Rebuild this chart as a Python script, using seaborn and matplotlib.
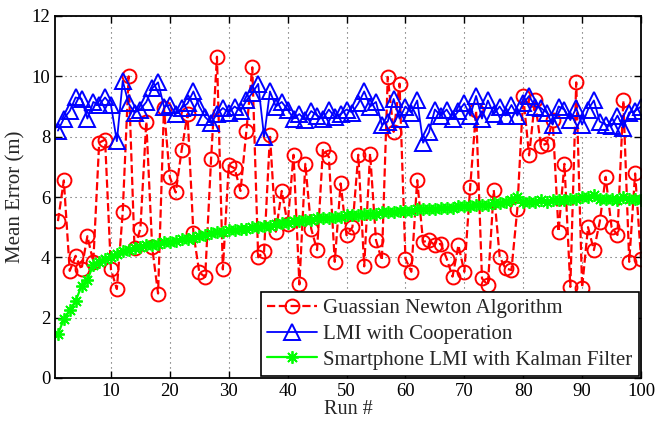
import numpy as np
import pandas as pd
import matplotlib
matplotlib.use("Agg")
import matplotlib.pyplot as plt
import seaborn as sns

runs = list(range(1, 101))

gauss_newton = [
    5.2, 6.55, 3.55, 4.05, 3.6, 4.7, 3.85, 7.8, 7.9, 3.6,
    2.95, 5.5, 10.0, 4.3, 4.95, 8.5, 4.33, 2.8, 8.95, 6.65,
    6.15, 7.55, 8.75, 4.8, 3.5, 3.35, 7.25, 10.65, 3.6, 7.05,
    6.95, 6.2, 8.2, 10.3, 4.0, 4.2, 8.05, 4.85, 6.2, 5.1,
    7.4, 3.1, 7.1, 4.95, 4.24, 7.6, 7.33, 3.85, 6.45, 4.73,
    5.0, 7.4, 3.7, 7.44, 4.57, 3.9, 9.98, 8.16, 9.76, 3.96,
    3.52, 6.56, 4.51, 4.57, 4.4, 4.45, 3.96, 3.36, 4.4, 3.52,
    6.34, 8.87, 3.3, 3.08, 6.23, 4.02, 3.63, 3.58, 5.6, 9.35,
    7.38, 9.2, 7.7, 7.77, 8.55, 4.85, 7.1, 3.02, 9.8, 3.0,
    5.0, 4.24, 5.18, 6.67, 5.0, 4.74, 9.2, 3.85, 6.78, 3.96,
]

lmi_coop = [
    8.2, 8.6, 8.85, 9.3, 9.25, 8.6, 9.15, 9.05, 9.3, 9.05,
    7.85, 9.85, 9.1, 8.8, 8.9, 9.15, 9.6, 9.8, 9.0, 9.05,
    8.75, 8.95, 9.1, 9.5, 9.0, 8.65, 8.45, 8.75, 8.95, 8.8,
    9.0, 8.85, 9.2, 9.45, 9.75, 8.0, 9.5, 9.0, 9.15, 8.9,
    8.6, 8.75, 8.55, 8.85, 8.7, 8.6, 8.9, 8.65, 8.75, 8.9,
    8.8, 9.1, 9.5, 9.0, 9.15, 8.4, 8.5, 9.25, 8.6, 9.0,
    8.8, 9.2, 7.8, 8.15, 8.9, 8.7, 8.9, 8.6, 8.85, 9.1,
    8.7, 9.35, 8.6, 9.2, 8.75, 9.0, 8.7, 9.05, 8.7, 9.1,
    9.35, 9.0, 8.95, 8.8, 8.4, 9.0, 8.9, 8.55, 8.95, 8.4,
    8.9, 9.2, 8.5, 8.4, 8.35, 8.7, 8.3, 8.8, 8.85, 9.0,
]

smartphone_kalman = [
    1.45, 1.95, 2.25, 2.55, 3.05, 3.25, 3.75, 3.85, 3.95, 4.0,
    4.1, 4.2, 4.25, 4.3, 4.35, 4.4, 4.4, 4.45, 4.5, 4.5,
    4.55, 4.6, 4.6, 4.65, 4.7, 4.75, 4.8, 4.85, 4.85, 4.9,
    4.9, 4.95, 4.95, 5.0, 5.0, 5.05, 5.05, 5.1, 5.15, 5.15,
    5.2, 5.2, 5.25, 5.25, 5.3, 5.3, 5.3, 5.35, 5.35, 5.4,
    5.4, 5.4, 5.45, 5.45, 5.45, 5.5, 5.5, 5.5, 5.55, 5.55,
    5.55, 5.6, 5.6, 5.6, 5.6, 5.65, 5.65, 5.65, 5.7, 5.7,
    5.7, 5.75, 5.75, 5.75, 5.8, 5.8, 5.85, 5.9, 6.0, 5.85,
    5.85, 5.85, 5.9, 5.85, 5.9, 5.9, 5.9, 5.95, 5.95, 6.0,
    6.0, 6.05, 5.95, 5.95, 5.95, 5.9, 6.0, 5.95, 5.95, 5.9,
]

labels = ["Guassian Newton Algorithm", "LMI with Cooperation",
          "Smartphone LMI with Kalman Filter"]
x_ticks = [10, 20, 30, 40, 50, 60, 70, 80, 90, 100]
y_ticks = [0, 2, 4, 6, 8, 10, 12]

sns.set_style("ticks")
plt.rcParams["font.family"] = ["Liberation Serif", "DejaVu Serif"]

fig = plt.figure(figsize=(6.57, 4.24), dpi=100)
ax = fig.add_axes([55 / 657, 1 - 378 / 424, (641 - 55) / 657, (378 - 16) / 424])

df = pd.DataFrame({"run": runs, "gn": gauss_newton, "lmi": lmi_coop,
                   "sk": smartphone_kalman})

sns.lineplot(data=df, x="run", y="gn", ax=ax, color=(1, 0, 0), linestyle="--",
             linewidth=1.6, marker="o", markersize=10, markerfacecolor="none",
             markeredgecolor=(1, 0, 0), markeredgewidth=1.4, label=labels[0])
sns.lineplot(data=df, x="run", y="lmi", ax=ax, color=(0, 0, 1), linestyle="-",
             linewidth=1.3, marker="^", markersize=11, markerfacecolor="none",
             markeredgecolor=(0, 0, 1), markeredgewidth=1.4, label=labels[1])
sns.lineplot(data=df, x="run", y="sk", ax=ax, color=(0, 1, 0), linestyle="-",
             linewidth=1.6, marker=(8, 2, 0), markersize=9,
             markeredgecolor=(0, 1, 0), markeredgewidth=1.3, label=labels[2])

ax.set_xlim(0.5, 100)
ax.set_ylim(0, 12)
ax.set_xticks(x_ticks)
ax.set_yticks(y_ticks)
ax.tick_params(direction="in", length=5, width=1, top=True, right=True,
               labelsize=13.5, colors="black")
ax.grid(True, linestyle=(0, (1, 3.5)), color="#555555", linewidth=0.8)
for s in ax.spines.values():
    s.set_linewidth(1.3)
    s.set_color("black")
ax.set_xlabel("Run #", fontsize=14.5, labelpad=0)
ax.set_ylabel("Mean Error (m)", fontsize=15, labelpad=4)

leg = ax.legend(loc="lower right", fontsize=15, frameon=True, fancybox=False,
                edgecolor="black", framealpha=1, borderaxespad=0.1,
                handlelength=2.4, labelspacing=0.3, borderpad=0.3,
                handletextpad=0.3)
leg.get_frame().set_linewidth(1.2)

fig.savefig("out.png", dpi=100)
